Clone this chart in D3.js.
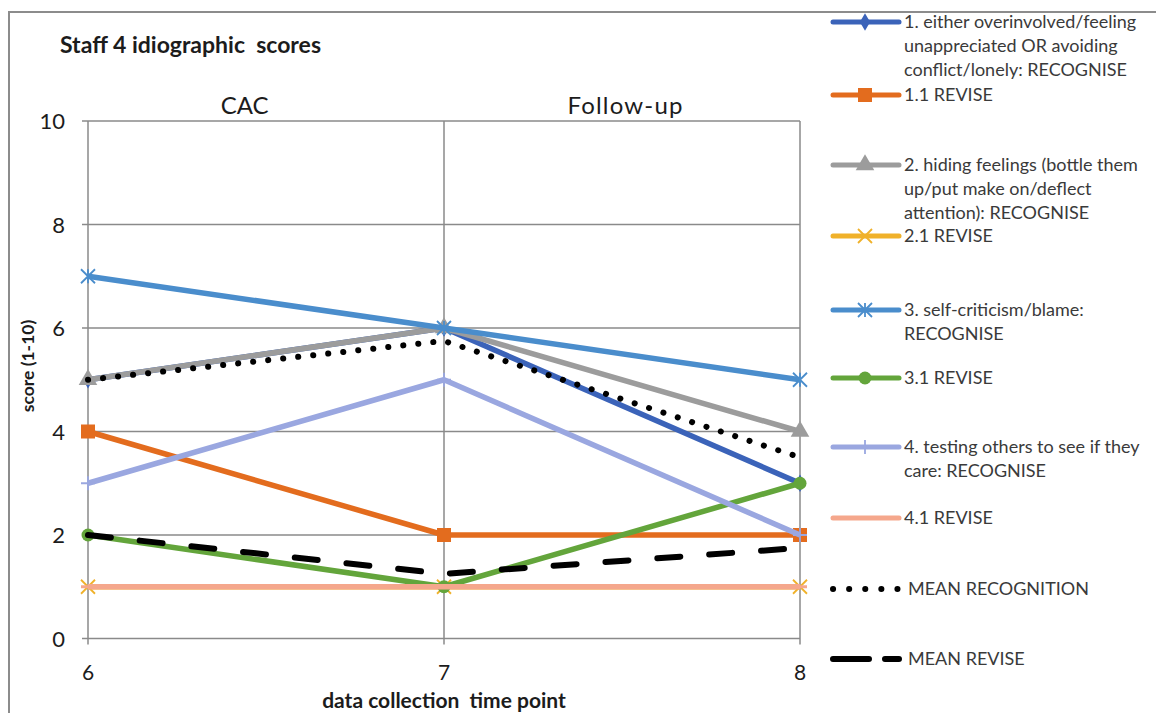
<!DOCTYPE html>
<html>
<head>
<meta charset="utf-8">
<script src="https://cdn.jsdelivr.net/npm/d3@7/dist/d3.min.js"></script>
<style>
  html, body { margin: 0; padding: 0; background: #ffffff; }
  svg { display: block; font-family: Lato, "Open Sans", "Liberation Sans", sans-serif; }
</style>
</head>
<body>
<svg id="chart" width="1156" height="713"></svg>
<script>
// ---- data ----
const timePoints = [6, 7, 8];
const yTickValues = [0, 2, 4, 6, 8, 10];
const phaseLabels = ["CAC", "Follow-up"];
const phaseCentres = [6.44, 7.51];

const seriesNames = [
  "1. either overinvolved/feeling|unappreciated OR avoiding|conflict/lonely: RECOGNISE",
  "1.1 REVISE",
  "2. hiding feelings (bottle them|up/put make on/deflect|attention): RECOGNISE",
  "2.1 REVISE",
  "3. self-criticism/blame:|RECOGNISE",
  "3.1 REVISE",
  "4. testing others to see if they|care: RECOGNISE",
  "4.1 REVISE",
  "MEAN RECOGNITION",
  "MEAN REVISE"
];
const overinvolvedRecognise  = [5, 6, 3];
const overinvolvedRevise     = [4, 2, 2];
const hidingRecognise        = [5, 6, 4];
const hidingRevise           = [1, 1, 1];
const selfCriticismRecognise = [7, 6, 5];
const selfCriticismRevise    = [2, 1, 3];
const testingRecognise       = [3, 5, 2];
const testingRevise          = [1, 1, 1];
const meanRecognition        = [5, 5.75, 3.5];
const meanRevise             = [2, 1.25, 1.75];

const seriesValues = [
  overinvolvedRecognise, overinvolvedRevise, hidingRecognise, hidingRevise,
  selfCriticismRecognise, selfCriticismRevise, testingRecognise, testingRevise,
  meanRecognition, meanRevise
];

// ---- styling per series ----
const styles = [
  { color: "#3b63b9", marker: "diamond" },
  { color: "#e36c1e", marker: "square" },
  { color: "#9c9c9c", marker: "triangle" },
  { color: "#f0b12a", marker: "x" },
  { color: "#4a8dcc", marker: "star" },
  { color: "#63a53b", marker: "circle" },
  { color: "#9aa7e0", marker: "plus" },
  { color: "#f5a78c", marker: "dash" },
  { color: "#000000", marker: "none", dash: "0.1 15", legendDash: "0.1 16", width: 6, cap: "round" },
  { color: "#000000", marker: "none", dash: "23 29", legendDash: "36 16", width: 6, cap: "round" }
];
const legendRowY = [22, 95, 165, 236, 310, 378, 447, 518, 589, 659];

// ---- layout ----
const svg = d3.select("#chart");
const x = d3.scaleLinear().domain([6, 8]).range([88, 800]);
const y = d3.scaleLinear().domain([0, 10]).range([638.5, 121]);
const gridColor = "#8a8a8a";
const textColor = "#1c1c1c";

// outer chart frame
svg.append("rect")
  .attr("x", 9).attr("y", 12).attr("width", 1200).attr("height", 760)
  .attr("fill", "none").attr("stroke", "#8c8c8c").attr("stroke-width", 2);

// title
svg.append("text")
  .attr("x", 60).attr("y", 53)
  .attr("font-size", 23).attr("font-weight", 700).attr("fill", textColor)
  .style("white-space", "pre")
  .text("Staff 4 idiographic  scores");

// horizontal gridlines
svg.append("g").selectAll("line").data(yTickValues).join("line")
  .attr("x1", x(6) - 6).attr("x2", x(8))
  .attr("y1", d => y(d)).attr("y2", d => y(d))
  .attr("stroke", gridColor).attr("stroke-width", 1.5);

// vertical gridlines
svg.append("g").selectAll("line").data(timePoints).join("line")
  .attr("x1", d => x(d)).attr("x2", d => x(d))
  .attr("y1", y(10)).attr("y2", y(0) + 6)
  .attr("stroke", gridColor).attr("stroke-width", 1.5);

// y tick labels
svg.append("g").selectAll("text").data(yTickValues).join("text")
  .attr("x", 65).attr("y", d => y(d) + 8)
  .attr("text-anchor", "end")
  .attr("font-size", 22).attr("fill", textColor)
  .text(d => d);

// x tick labels
svg.append("g").selectAll("text").data(timePoints).join("text")
  .attr("x", d => x(d)).attr("y", 680)
  .attr("text-anchor", "middle")
  .attr("font-size", 21).attr("fill", textColor)
  .text(d => d);

// phase labels above the plot
svg.append("g").selectAll("text").data(phaseLabels).join("text")
  .attr("x", (d, i) => x(phaseCentres[i])).attr("y", 114)
  .attr("text-anchor", "middle")
  .attr("font-size", 24).attr("fill", textColor)
  .attr("letter-spacing", (d, i) => i === 1 ? 1.2 : 0)
  .text(d => d);

// axis titles
svg.append("text")
  .attr("x", x(7)).attr("y", 708)
  .attr("text-anchor", "middle")
  .attr("font-size", 21).attr("font-weight", 700).attr("fill", textColor)
  .style("white-space", "pre")
  .text("data collection  time point");

svg.append("text")
  .attr("transform", "translate(34,366) rotate(-90)")
  .attr("text-anchor", "middle")
  .attr("font-size", 17.5).attr("font-weight", 700).attr("fill", textColor)
  .text("score (1-10)");

// ---- markers ----
function drawMarker(g, type, color, cx, cy) {
  const s = 7;
  if (type === "diamond") {
    g.append("path").attr("d", d3.symbol(d3.symbolDiamond, 90)())
      .attr("transform", `translate(${cx},${cy})`).attr("fill", color);
  } else if (type === "square") {
    g.append("rect").attr("x", cx - s).attr("y", cy - s)
      .attr("width", 2 * s).attr("height", 2 * s).attr("fill", color);
  } else if (type === "triangle") {
    g.append("path").attr("d", d3.symbol(d3.symbolTriangle, 150)())
      .attr("transform", `translate(${cx},${cy})`).attr("fill", color);
  } else if (type === "circle") {
    g.append("circle").attr("cx", cx).attr("cy", cy).attr("r", 6.5).attr("fill", color);
  } else if (type === "x" || type === "star") {
    const p = d3.path();
    p.moveTo(cx - s, cy - s); p.lineTo(cx + s, cy + s);
    p.moveTo(cx - s, cy + s); p.lineTo(cx + s, cy - s);
    if (type === "star") { p.moveTo(cx, cy - s); p.lineTo(cx, cy + s); }
    g.append("path").attr("d", p.toString())
      .attr("stroke", color).attr("stroke-width", 1.8).attr("fill", "none");
  } else if (type === "plus") {
    const p = d3.path();
    p.moveTo(cx - s, cy); p.lineTo(cx + s, cy);
    p.moveTo(cx, cy - s); p.lineTo(cx, cy + s);
    g.append("path").attr("d", p.toString())
      .attr("stroke", color).attr("stroke-width", 1.8).attr("fill", "none");
  } else if (type === "dash") {
    g.append("line").attr("x1", cx - s).attr("x2", cx + s).attr("y1", cy).attr("y2", cy)
      .attr("stroke", color).attr("stroke-width", 3);
  }
}

// ---- series ----
const line = d3.line().x((d, i) => x(timePoints[i])).y(d => y(d));
const plot = svg.append("g");
seriesValues.forEach((vals, k) => {
  const st = styles[k];
  const g = plot.append("g");
  g.append("path").datum(vals)
    .attr("d", line)
    .attr("fill", "none")
    .attr("stroke", st.color)
    .attr("stroke-width", st.width || 5.5)
    .attr("stroke-linejoin", "round")
    .attr("stroke-linecap", st.cap || "butt")
    .attr("stroke-dasharray", st.dash || null);
  vals.forEach((v, i) => drawMarker(g, st.marker, st.color, x(timePoints[i]), y(v)));
});

// ---- legend ----
const legend = svg.append("g");
seriesNames.forEach((name, k) => {
  const st = styles[k];
  const ly = legendRowY[k];
  const g = legend.append("g");
  g.append("line")
    .attr("x1", 833).attr("x2", 899).attr("y1", ly).attr("y2", ly)
    .attr("stroke", st.color)
    .attr("stroke-width", st.width || 5)
    .attr("stroke-linecap", st.cap || "round")
    .attr("stroke-dasharray", st.legendDash || null);
  drawMarker(g, st.marker, st.color, 865, ly);
  const tx = k >= 8 ? 908 : 904;
  const t = g.append("text")
    .attr("x", tx).attr("y", ly + 6)
    .attr("font-size", 18).attr("fill", "#3a3a3a");
  name.split("|").forEach((ln, j) => {
    t.append("tspan").attr("x", tx).attr("dy", j === 0 ? 0 : 24).text(ln);
  });
});
</script>
</body>
</html>
